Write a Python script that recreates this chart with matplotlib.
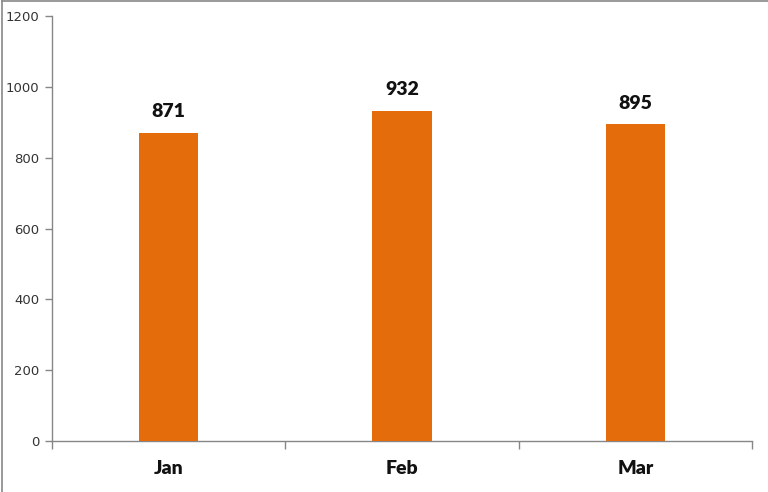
import matplotlib
matplotlib.use("Agg")
import matplotlib.pyplot as plt
from matplotlib.lines import Line2D

categories = ["Jan", "Feb", "Mar"]
values = [871, 932, 895]
yticks = [0, 200, 400, 600, 800, 1000, 1200]

fig = plt.figure(figsize=(7.68, 4.92), dpi=100)
ax = fig.add_axes([52/768, 1 - 441/492, 700/768, 425/492])

x = list(range(len(categories)))
bars = ax.bar(x, values, width=0.253, color="#E46C0A", zorder=3)
for xi, v in zip(x, values):
    ax.annotate(str(v), (xi, v), xytext=(0, 9), textcoords="offset points",
                ha="center", va="bottom", fontsize=14, fontweight="heavy",
                family="Lato", color="#111111")

ax.set_xlim(-0.5, len(categories) - 0.5)
ax.set_ylim(0, 1200)
ax.set_yticks(yticks)
ax.set_yticklabels([str(t) for t in yticks], fontsize=9.5, color="#333333")
ax.set_xticks(x)
ax.set_xticklabels(categories, fontsize=14, fontweight="heavy", family="Lato", color="#111111")
ax.tick_params(axis="x", length=0, pad=14)
ax.tick_params(axis="y", length=5, width=1, color="#868686", pad=4)
ax.set_xticks([i - 0.5 for i in range(len(categories) + 1)], minor=True)
ax.tick_params(axis="x", which="minor", length=6, width=1, color="#868686", direction="out")

for s in ["top", "right"]:
    ax.spines[s].set_visible(False)
for s in ["left", "bottom"]:
    ax.spines[s].set_color("#868686")
    ax.spines[s].set_linewidth(1)

fig.add_artist(Line2D([0.002, 0.002], [0, 0.998], transform=fig.transFigure, color="#888888", lw=1.2))
fig.add_artist(Line2D([0.002, 1], [0.998, 0.998], transform=fig.transFigure, color="#888888", lw=1.2))

fig.savefig("out.png", dpi=100)
